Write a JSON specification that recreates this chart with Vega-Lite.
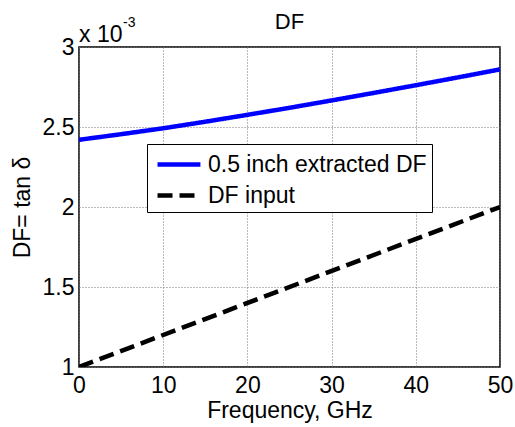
{
  "$schema": "https://vega.github.io/schema/vega-lite/v6.json",
  "autosize": "none",
  "width": 421,
  "height": 320,
  "padding": {"left": 79, "top": 47, "right": 15, "bottom": 60},
  "background": "white",
  "config": {
    "font": "Liberation Sans",
    "view": {"stroke": "black", "strokeWidth": 1.5},
    "axis": {"labelFont": "Liberation Sans", "titleFont": "Liberation Sans", "labelColor": "black", "titleColor": "black", "titleFontWeight": "normal", "ticks": false, "domain": false, "gridColor": "#777777", "gridDash": [1, 2], "gridOpacity": 1, "gridWidth": 1},
    "legend": {"orient": "none", "legendX": 68, "legendY": 97, "labelFontSize": 23, "labelFont": "Liberation Sans", "labelColor": "black", "symbolType": "M-0.74,0H2.44", "symbolSize": 729, "symbolStrokeWidth": 4.5, "strokeColor": "black", "fillColor": "white", "padding": 4.5, "rowPadding": 3, "labelOffset": 24.5, "labelLimit": 400}
  },
  "title": {"text": "DF", "fontSize": 22, "fontWeight": "normal", "font": "Liberation Sans", "offset": -18, "color": "black"},
  "datasets": {
    "curves": [
      {"freq": 0, "df": 0.00242, "series": "0.5 inch extracted DF"},
      {"freq": 5, "df": 0.002455, "series": "0.5 inch extracted DF"},
      {"freq": 10, "df": 0.002492, "series": "0.5 inch extracted DF"},
      {"freq": 15, "df": 0.002533, "series": "0.5 inch extracted DF"},
      {"freq": 20, "df": 0.002576, "series": "0.5 inch extracted DF"},
      {"freq": 25, "df": 0.00262, "series": "0.5 inch extracted DF"},
      {"freq": 30, "df": 0.002666, "series": "0.5 inch extracted DF"},
      {"freq": 35, "df": 0.002713, "series": "0.5 inch extracted DF"},
      {"freq": 40, "df": 0.002761, "series": "0.5 inch extracted DF"},
      {"freq": 45, "df": 0.00281, "series": "0.5 inch extracted DF"},
      {"freq": 50, "df": 0.00286, "series": "0.5 inch extracted DF"},
      {"freq": 0, "df": 0.001, "series": "DF input"},
      {"freq": 50, "df": 0.002, "series": "DF input"}
    ],
    "notes": [
      {"freq": 0, "df": 0.003, "label": "x 10"}
    ]
  },
  "layer": [
    {
      "data": {"name": "curves"},
      "mark": {"type": "line", "strokeWidth": 4.5, "clip": true},
      "encoding": {
        "x": {"field": "freq", "type": "quantitative", "scale": {"domain": [0, 50], "nice": false}, "axis": {"values": [0, 10, 20, 30, 40, 50], "title": "Frequency, GHz", "labelFontSize": 23, "titleFontSize": 23, "labelPadding": 7, "titlePadding": 2, "labelFlush": false}},
        "y": {"field": "df", "type": "quantitative", "scale": {"domain": [0.001, 0.003], "nice": false, "zero": false}, "axis": {"values": [0.001, 0.0015, 0.002, 0.0025, 0.003], "labelExpr": "format(datum.value*1000, '~g')", "title": "DF= tan δ", "labelFontSize": 23, "titleFontSize": 23, "labelPadding": 5, "titlePadding": 8, "labelFlush": false}},
        "color": {"field": "series", "type": "nominal", "scale": {"domain": ["0.5 inch extracted DF", "DF input"], "range": ["#0000ff", "#000000"]}, "legend": {"title": null}},
        "strokeDash": {"field": "series", "type": "nominal", "scale": {"domain": ["0.5 inch extracted DF", "DF input"], "range": [[1, 0], [15, 7]]}, "legend": {"title": null}}
      }
    },
    {
      "data": {"name": "notes"},
      "mark": {"type": "text", "align": "left", "baseline": "alphabetic", "fontSize": 23, "dx": 0, "dy": -5, "color": "black", "font": "Liberation Sans"},
      "encoding": {"x": {"field": "freq", "type": "quantitative"}, "y": {"field": "df", "type": "quantitative"}, "text": {"field": "label"}}
    },
    {
      "data": {"name": "notes"},
      "mark": {"type": "text", "text": "-3", "align": "left", "baseline": "alphabetic", "fontSize": 14, "dx": 44, "dy": -20, "color": "black", "font": "Liberation Sans"},
      "encoding": {"x": {"field": "freq", "type": "quantitative"}, "y": {"field": "df", "type": "quantitative"}}
    }
  ]
}
